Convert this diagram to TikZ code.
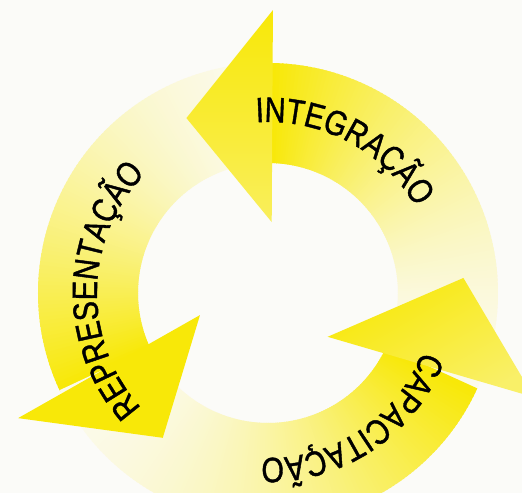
\documentclass[tikz,border=0pt]{standalone}
\usepackage{fontspec}
\newfontfamily\arcfont[FakeStretch=0.82, FakeBold=1.2, LetterSpace=-2]{Liberation Sans}
\usetikzlibrary{decorations.text}
\definecolor{ringyellow}{RGB}{248,232,8}
\definecolor{paper}{RGB}{251,251,248}
\newcommand{\arclabel}{\arcfont\fontsize{20}{20}\selectfont}
% body of one arrow: fades from the tail (#1) to the head (#2)
\newcommand{\ringpart}[2]{%
  \foreach \a in {#1,...,#2}{
    \pgfmathsetmacro\p{5+95*((\a-#1)/(#2-#1))^1.7}
    \fill[ringyellow!\p!paper] (\a:130) arc[start angle=\a, end angle=\a+1.5, radius=130]
      -- (\a+1.5:230) arc[start angle=\a+1.5, end angle=\a, radius=230] -- cycle;
  }}
\begin{document}
\begin{tikzpicture}[x=0.02cm, y=0.02cm]
    \tikzstyle{arclabel}=[decorate, decoration={text along path, text align=center}]
    \path[use as bounding box] (-268,-200) rectangle (254,293);
    \clip (-268,-200) rectangle (254,293);
    \fill[paper] (-268,-200) rectangle (254,293);
    \ringpart{-25}{88}
    \ringpart{89}{204}
    \ringpart{205}{334}
    \shade[top color=ringyellow, middle color=ringyellow, bottom color=ringyellow!65!paper]
        (89:283) -- (115:193) -- (87:71) -- cycle;
    \fill[ringyellow] (206.6:279.5) -- (234:179) -- (198:71.5) -- cycle;
    \shade[top color=ringyellow, bottom color=ringyellow!60!paper, shading angle=30]
        (323.7:74) -- (4.4:196) -- (338.6:285.6) -- cycle;
    \path[arclabel, decoration={text={|\arclabel|INTEGRAÇÃO}}]
        (102:171) arc[start angle=102, end angle=22, radius=171];
    \path[arclabel, decoration={text={|\arclabel|REPRESENTAÇÃO}}]
        (230:171) arc[start angle=230, end angle=128, radius=171];
    \path[arclabel, decoration={text={|\arclabel|CAPACITAÇÃO}}]
        (-12.5:165) arc[start angle=-12.5, end angle=-100.5, radius=165];
\end{tikzpicture}
\end{document}
